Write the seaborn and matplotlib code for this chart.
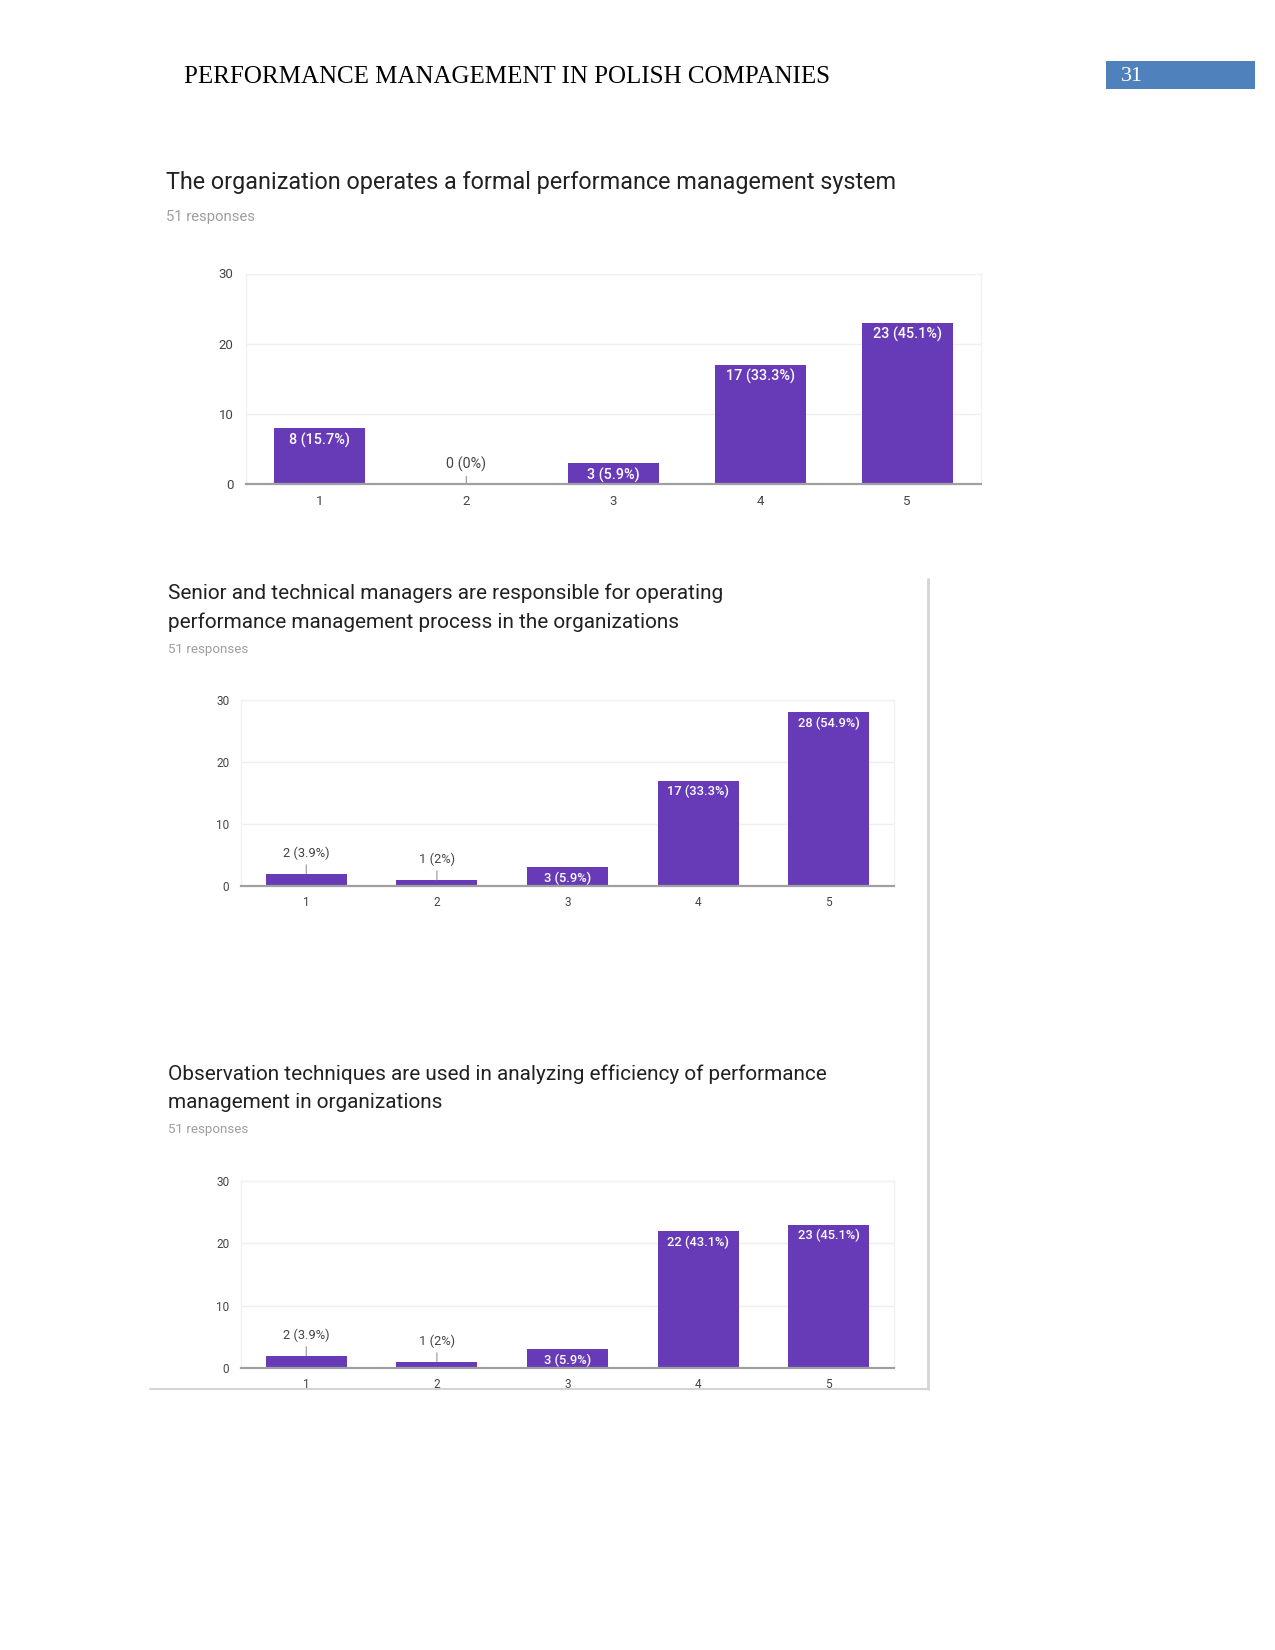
import matplotlib
matplotlib.use('Agg')
import matplotlib.pyplot as plt
from matplotlib.lines import Line2D
from matplotlib.patches import Rectangle
import seaborn as sns
import pandas as pd

# ---------------- data ----------------
categories = ['1', '2', '3', '4', '5']
q1_counts = [8, 0, 3, 17, 23]
q1_pcts = ['15.7%', '0%', '5.9%', '33.3%', '45.1%']
q2_counts = [2, 1, 3, 17, 28]
q2_pcts = ['3.9%', '2%', '5.9%', '33.3%', '54.9%']
q3_counts = [2, 1, 3, 22, 23]
q3_pcts = ['3.9%', '2%', '5.9%', '43.1%', '45.1%']
y_ticks = [0, 10, 20, 30]

header_text = 'PERFORMANCE MANAGEMENT IN POLISH COMPANIES'
page_number = '31'
q1_title = ['The organization operates a formal performance management system']
q2_title = ['Senior and technical managers are responsible for operating',
            'performance management process in the organizations']
q3_title = ['Observation techniques are used in analyzing efficiency of performance',
            'management in organizations']
responses_text = '51 responses'

# ---------------- style ----------------
sns.set_theme(style='white')
plt.rcParams['font.family'] = ['Roboto', 'DejaVu Sans']
BAR = '#673ab7'

W, H = 1275, 1650
fig = plt.figure(figsize=(12.75, 16.5), dpi=100)
fig.patch.set_facecolor('white')
renderer = fig.canvas.get_renderer()


def fx(x):
    return x / W


def fy(y):
    return 1 - y / H


def fit_size(s, width, family):
    t = fig.text(0, 0, s, fontsize=10, family=family)
    w = t.get_window_extent(renderer).width
    t.remove()
    return 10 * width / w


def title_block(x, ys, lines, width, resp_y, resp_w):
    fs = fit_size(lines[0], width, ['Roboto', 'DejaVu Sans'])
    for yy, line in zip(ys, lines):
        fig.text(fx(x), fy(yy), line, fontsize=fs, color='#212121',
                 ha='left', va='center', family=['Roboto', 'DejaVu Sans'])
    rfs = fit_size(responses_text, resp_w, ['Roboto', 'DejaVu Sans'])
    fig.text(fx(x), fy(resp_y), responses_text, fontsize=rfs, color='#9e9e9e',
             ha='left', va='center', family=['Roboto', 'DejaVu Sans'])


def draw_chart(rect, counts, pcts, tick_fs, label_fs, ypad, xpad):
    x0, y0, x1, y1 = rect
    ax = fig.add_axes([fx(x0), fy(y1), (x1 - x0) / W, (y1 - y0) / H])
    df = pd.DataFrame({'rating': categories, 'count': counts})
    sns.barplot(data=df, x='rating', y='count', color=BAR, width=0.62,
                saturation=1, linewidth=0, ax=ax, zorder=3)
    ax.set_xlim(-0.5, 4.5)
    ax.set_ylim(0, 30)
    ax.set_yticks(y_ticks)
    ax.set_xlabel('')
    ax.set_ylabel('')
    ax.grid(axis='y', color='#efefef', lw=1)
    ax.set_axisbelow(True)
    for sp in ['top', 'right', 'left']:
        ax.spines[sp].set_color('#f2f2f2')
        ax.spines[sp].set_linewidth(1)
    ax.spines['bottom'].set_color('#a0a0a0')
    ax.spines['bottom'].set_linewidth(1.6)
    ax.spines['bottom'].set_zorder(4)
    ax.tick_params(axis='y', length=0, labelsize=tick_fs, labelcolor='#444444', pad=ypad)
    ax.tick_params(axis='x', length=0, labelsize=tick_fs, labelcolor='#444444', pad=xpad)
    for i, (c, p) in enumerate(zip(counts, pcts)):
        lab = f'{c} ({p})'
        if c >= 3:
            ax.annotate(lab, xy=(i, c), xytext=(0, -3.2), textcoords='offset points',
                        ha='center', va='top', color='white', fontsize=label_fs,
                        fontweight='medium', zorder=5)
        else:
            ax.annotate(lab, xy=(i, c), xytext=(0, 14.5), textcoords='offset points',
                        ha='center', va='center', color='#444444', fontsize=label_fs,
                        zorder=5,
                        arrowprops=dict(arrowstyle='-', color='#a0a0a0', lw=0.9,
                                        shrinkA=1, shrinkB=0))
    return ax


# ---------------- page header ----------------
hfs = fit_size(header_text, 647, ['Liberation Serif'])
fig.text(fx(184), fy(77), header_text, fontsize=hfs, color='black',
         family=['Liberation Serif'], ha='left', va='center')
fig.add_artist(Rectangle((fx(1106), fy(88.5)), 149 / W, 27.5 / H,
                         transform=fig.transFigure, color='#4f81bd', lw=0))
fig.text(fx(1121), fy(76.5), page_number, fontsize=16, color='white',
         family=['Liberation Serif'], ha='left', va='center')

# ---------------- chart 1 ----------------
title_block(166, [183], q1_title, 730, 217, 90)
draw_chart((246, 273.5, 980.5, 484), q1_counts, q1_pcts, 9.5, 10.4, 9, 8)

# ---------------- chart 2 ----------------
title_block(168, [593, 622], q2_title, 557, 649, 81)
draw_chart((241, 700, 894, 886), q2_counts, q2_pcts, 8.5, 9.3, 8.5, 7)

# ---------------- chart 3 ----------------
title_block(168, [1074, 1102], q3_title, 660, 1129, 81)
draw_chart((241, 1181, 894, 1368), q3_counts, q3_pcts, 8.5, 9.3, 8.5, 7)

# ---------------- frame lines around charts 2-3 ----------------
fig.add_artist(Line2D([fx(928), fx(928)], [fy(579), fy(1389)],
                      transform=fig.transFigure, color='#d4d4d4', lw=2))
fig.add_artist(Line2D([fx(150), fx(929)], [fy(1389), fy(1389)],
                      transform=fig.transFigure, color='#d4d4d4', lw=1.5))

fig.savefig('out.png', dpi=100, facecolor='white')
